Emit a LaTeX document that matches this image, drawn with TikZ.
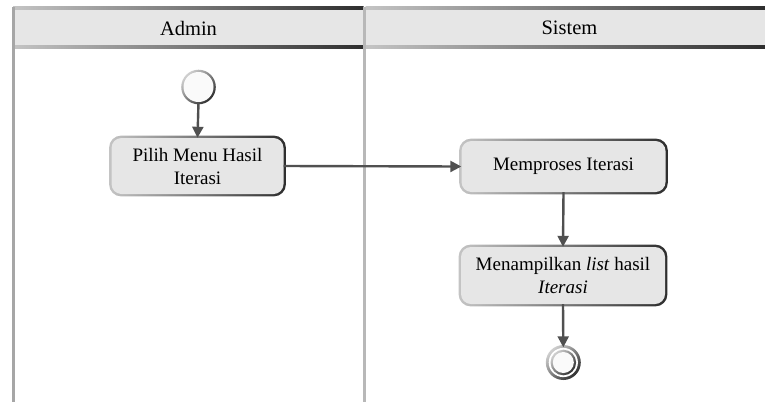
\documentclass[tikz,border=0pt]{standalone}
\usepackage{fontspec}
\setmainfont{Liberation Serif}
\usetikzlibrary{arrows.meta,backgrounds}

\definecolor{boxfill}{HTML}{E6E6E6}
\definecolor{headfill}{HTML}{E6E6E6}
\definecolor{flowline}{HTML}{505050}
\definecolor{edgelight}{HTML}{C4C4C4}
\definecolor{edgedark}{HTML}{2E2E2E}
\definecolor{laneline}{HTML}{B8B8B8}
\definecolor{laneedge}{HTML}{A6A6A6}

\tikzset{
  act/.style={fill=boxfill, rounded corners=10pt, align=center, inner sep=0pt,
    font=\fontsize{19}{23}\selectfont},
  lanetitle/.style={font=\fontsize{20.5}{24}\selectfont, inner sep=0pt},
  flow/.style={draw=flowline, line width=2.4pt,
    -{Triangle[length=11pt,width=11pt]}},
  gradedge/.style={left color=edgelight, right color=edgedark},
}
% shaded rim behind a rounded activity box
\newcommand\actrim[1]{%
  \shade[gradedge, rounded corners=12pt]
    ([shift={(-2.2pt,-2.2pt)}]#1.south west) rectangle
    ([shift={(2.2pt,2.2pt)}]#1.north east);}

\begin{document}
\begin{tikzpicture}[x=1pt,y=-1pt]
  \useasboundingbox (0,0) rectangle (765,402);

  % swimlane headers
  \fill[headfill] (13,8) rectangle (765,47);
  \shade[left color=edgelight, right color=edgedark] (13,6.8) rectangle (363.5,9.2);
  \shade[left color=edgelight, right color=edgedark] (365.5,6.8) rectangle (765,9.2);
  \shade[left color=edgelight, right color=edgedark] (13,45.8) rectangle (363.5,48.2);
  \shade[left color=edgelight, right color=edgedark] (365.5,45.8) rectangle (765,48.2);
  \node[lanetitle] (lane1) at (188.5,28) {Admin};
  \node[lanetitle] (lane2) at (569.5,28) {Sistem};

  % lane borders
  \draw[laneedge, line width=2.6pt] (13.2,6.8) -- (13.2,402);
  \draw[laneline, line width=2.6pt] (364.5,6.8) -- (364.5,402);

  % start node
  \shade[top color=edgelight!80, bottom color=edgedark, shading angle=45]
    (198.5,87) circle (17.3pt);
  \node[circle, fill=white!98!black, minimum size=30pt, inner sep=0pt] (start) at (198.5,87) {};

  % activities
  \node[act, minimum width=172pt, minimum height=56pt] (pilih) at (197.5,166) {Pilih Menu Hasil\\Iterasi};
  \node[act, minimum width=204pt, minimum height=51pt] (proses) at (563.5,166.5) {Memproses Iterasi};
  \node[act, minimum width=204pt, minimum height=57pt] (tampil) at (563,275.5) {Menampilkan \textit{list} hasil\\\textit{Iterasi}};

  \begin{scope}[on background layer]
    \actrim{pilih}
    \actrim{proses}
    \actrim{tampil}
  \end{scope}

  % final node
  \shade[top color=edgelight!80, bottom color=edgedark, shading angle=45]
    (563.3,362.5) circle (17.5pt);
  \fill[white] (563.3,362.5) circle (14.6pt);
  \shade[top color=edgelight!80, bottom color=edgedark, shading angle=45]
    (563.3,362.5) circle (12.8pt);
  \node[circle, fill=white!98!black, minimum size=21pt, inner sep=0pt] (final) at (563.3,362.5) {};

  % control flow
  \draw[flow] (start.south) -- (pilih.north);
  \draw[flow] (pilih.east) -- (proses.west);
  \draw[flow] (proses.south) -- (tampil.north);
  \draw[flow] (tampil.south) -- ([yshift=4.5pt]final.north);
\end{tikzpicture}
\end{document}
